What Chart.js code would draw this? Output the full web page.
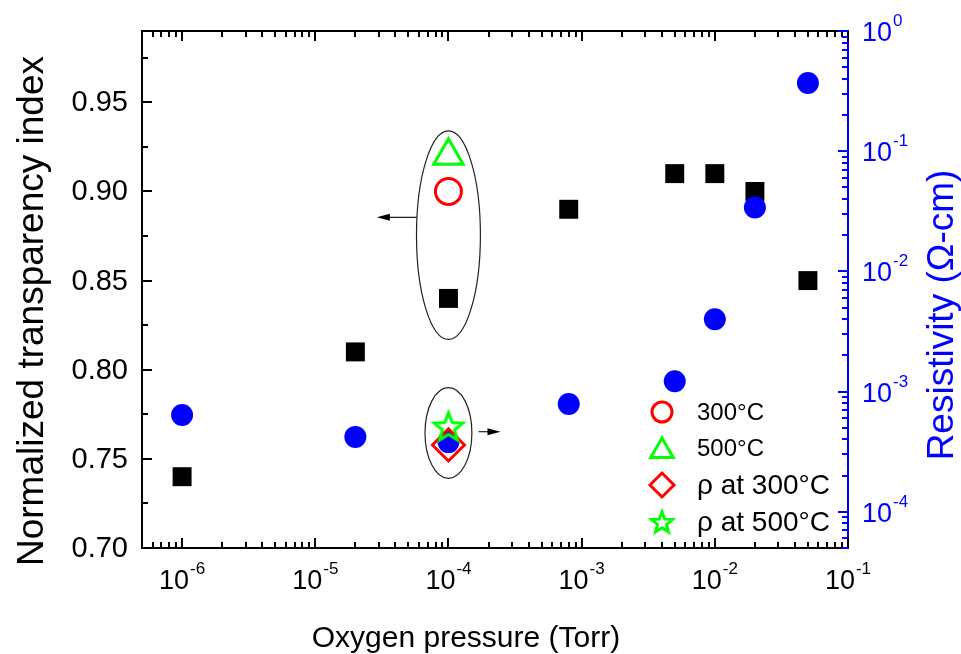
<!DOCTYPE html>
<html>
<head>
<meta charset="utf-8">
<script src="https://cdn.jsdelivr.net/npm/chart.js@4.4.1/dist/chart.umd.min.js"></script>
<style>
  html, body { margin: 0; padding: 0; background: #fff; }
  #wrap { width: 961px; height: 654px; }
</style>
</head>
<body>
<div id="wrap"><canvas id="chart" width="961" height="654"></canvas></div>
<script>
// values
const pressure = [1e-6, 2e-5, 1e-4, 8e-4, 5e-3, 1e-2, 2e-2, 5e-2];
const transparency = [0.74, 0.81, 0.84, 0.89, 0.91, 0.91, 0.90, 0.85];
const resistivity = [6.4e-4, 4.2e-4, 3.8e-4, 7.9e-4, 1.22e-3, 4.0e-3, 3.4e-2, 0.37];

// annealed samples (all at 1e-4 Torr)
const annealPressure = [1e-4];
const trans300 = [0.90];
const trans500 = [0.92];
const rho300 = [3.6e-4];
const rho500 = [5.0e-4];

const leftTickLabels = ['0.70', '0.75', '0.80', '0.85', '0.90', '0.95'];
const xTickExps = [-6, -5, -4, -3, -2, -1];
const rightTickExps = [-4, -3, -2, -1, 0];
const legendLabels = ['300°C', '500°C', 'ρ at 300°C', 'ρ at 500°C'];

const FONT = '"Liberation Sans", Arial, sans-serif';
const BLUE = '#0000ff', RED = '#ff0000', GREEN = '#00ff00';

function toPoints(xs, ys) {
  return xs.map((x, i) => ({ x: x, y: ys[i] }));
}

// open five-point star as an image point style
function starImage(r, color, lw) {
  const size = Math.ceil(2 * (r + lw + 2));
  const c = document.createElement('canvas');
  c.width = size; c.height = size;
  const g = c.getContext('2d');
  starPath(g, size / 2, size / 2, r);
  g.strokeStyle = color;
  g.lineWidth = lw;
  g.stroke();
  return c;
}
function starPath(g, cx, cy, r) {
  const inner = r * 0.43;
  g.beginPath();
  for (let k = 0; k < 10; k++) {
    const rr = k % 2 ? inner : r;
    const a = -Math.PI / 2 + k * Math.PI / 5;
    g.lineTo(cx + rr * Math.cos(a), cy + rr * Math.sin(a));
  }
  g.closePath();
}

// ellipses + arrows, anchored in data units
const callouts = [
  { axis: 'y', x: 1e-4, lo: 0.817, hi: 0.934, halfDec: 0.24, arrowAt: 0.8855, from: null, to: 2.9e-5 },
  { axis: 'y2', x: 1e-4, lo: 1.9e-4, hi: 1.08e-3, halfDec: 0.176, arrowAt: 4.64e-4, from: 1.68e-4, to: 2.46e-4 }
];

function logTicks(min, max) {
  const out = [];
  for (let e = Math.floor(Math.log10(min)); e <= Math.ceil(Math.log10(max)); e++) {
    for (let s = 1; s <= 9; s++) {
      const v = s * Math.pow(10, e);
      if (v >= min * 0.999 && v <= max * 1.001) out.push({ v: v, major: s === 1 });
    }
  }
  return out;
}

function line(ctx, x1, y1, x2, y2) {
  ctx.beginPath(); ctx.moveTo(x1, y1); ctx.lineTo(x2, y2); ctx.stroke();
}

function drawPow(ctx, exp, x, baseY, align) {
  ctx.font = '27px ' + FONT;
  const wb = ctx.measureText('10').width;
  ctx.font = '17px ' + FONT;
  const sup = String(exp);
  const ws = ctx.measureText(sup).width;
  const x0 = align === 'center' ? x - (wb + ws + 1) / 2 : x;
  ctx.textAlign = 'left';
  ctx.textBaseline = 'alphabetic';
  ctx.font = '27px ' + FONT;
  ctx.fillText('10', x0, baseY);
  ctx.font = '17px ' + FONT;
  ctx.fillText(sup, x0 + wb + 1, baseY - 15);
}

function arrowHead(ctx, x, y, dir) {
  ctx.beginPath();
  ctx.moveTo(x, y);
  ctx.lineTo(x - dir * 13, y - 3.5);
  ctx.lineTo(x - dir * 13, y + 3.5);
  ctx.closePath();
  ctx.fill();
}

const decor = {
  id: 'decor',
  afterDatasetsDraw(chart) {
    const ctx = chart.ctx;
    const xs = chart.scales.x;
    ctx.save();
    ctx.strokeStyle = '#222';
    ctx.fillStyle = '#000';
    ctx.lineWidth = 1.2;
    callouts.forEach(c => {
      const ys = chart.scales[c.axis];
      const cx = xs.getPixelForValue(c.x);
      const rx = xs.getPixelForValue(c.x * Math.pow(10, c.halfDec)) - cx;
      const yTop = ys.getPixelForValue(c.hi), yBot = ys.getPixelForValue(c.lo);
      const cy = (yTop + yBot) / 2, ry = (yBot - yTop) / 2;
      ctx.beginPath();
      ctx.ellipse(cx, cy, rx, ry, 0, 0, Math.PI * 2);
      ctx.stroke();
      const ay = ys.getPixelForValue(c.arrowAt);
      const tx = xs.getPixelForValue(c.to);
      let fx;
      if (c.from === null) {
        const k = (ay - cy) / ry;
        fx = cx - rx * Math.sqrt(Math.max(0, 1 - k * k));
      } else {
        fx = xs.getPixelForValue(c.from);
      }
      const dir = tx > fx ? 1 : -1;
      line(ctx, fx, ay, tx - dir * 8, ay);
      arrowHead(ctx, tx, ay, dir);
    });
    ctx.restore();
  },
  afterDraw(chart) {
    const ctx = chart.ctx;
    const { left, right, top, bottom } = chart.chartArea;
    const xs = chart.scales.x, yl = chart.scales.y, yr = chart.scales.y2;
    ctx.save();
    ctx.lineWidth = 2;
    ctx.strokeStyle = '#000';
    line(ctx, left - 1, top, right, top);

    // x ticks, bottom and mirrored top
    logTicks(xs.min, xs.max).forEach(t => {
      const px = Math.round(xs.getPixelForValue(t.v));
      const len = t.major ? 10 : 6;
      line(ctx, px, bottom, px, bottom - len);
      line(ctx, px, top, px, top + len);
    });
    // left ticks
    leftTickLabels.forEach(lab => {
      const v = parseFloat(lab);
      const py = Math.round(yl.getPixelForValue(v));
      line(ctx, left, py, left + 10, py);
      const vm = v + 0.025;
      if (vm < yl.max) {
        const pm = Math.round(yl.getPixelForValue(vm));
        line(ctx, left, pm, left + 6, pm);
      }
    });
    // right ticks
    ctx.strokeStyle = BLUE;
    logTicks(yr.min, yr.max).forEach(t => {
      const py = Math.round(yr.getPixelForValue(t.v));
      line(ctx, right, py, right - (t.major ? 10 : 6), py);
    });

    // tick labels
    ctx.fillStyle = '#000';
    ctx.font = '29px ' + FONT;
    ctx.textAlign = 'right';
    ctx.textBaseline = 'middle';
    leftTickLabels.forEach(lab => {
      ctx.fillText(lab, left - 14, yl.getPixelForValue(parseFloat(lab)) + 1);
    });
    xTickExps.forEach(e => {
      drawPow(ctx, e, xs.getPixelForValue(Math.pow(10, e)), bottom + 41, 'center');
    });
    ctx.fillStyle = BLUE;
    rightTickExps.forEach(e => {
      drawPow(ctx, e, right + 14, yr.getPixelForValue(Math.pow(10, e)) + 10, 'left');
    });

    // axis titles
    ctx.textAlign = 'center';
    ctx.textBaseline = 'alphabetic';
    ctx.fillStyle = '#000';
    ctx.font = '30px ' + FONT;
    ctx.fillText('Oxygen pressure (Torr)', 466, 647);
    ctx.save();
    ctx.translate(43, 311);
    ctx.rotate(-Math.PI / 2);
    ctx.font = '37px ' + FONT;
    ctx.fillText('Normalized transparency index', 0, 0);
    ctx.restore();
    ctx.save();
    ctx.translate(953, 315);
    ctx.rotate(-Math.PI / 2);
    ctx.fillStyle = BLUE;
    ctx.font = '37px ' + FONT;
    ctx.fillText('Resistivity (Ω-cm)', 0, 0);
    ctx.restore();

    // legend
    const rows = [
      { style: 'circle', r: 10, color: RED, size: 24 },
      { style: 'triangle', r: 13, color: GREEN, size: 24 },
      { style: 'rectRot', r: 12, color: RED, size: 28 },
      { style: 'star', r: 11, color: GREEN, size: 28 }
    ];
    const rowY = [412, 448, 485, 522];
    rows.forEach((row, i) => {
      const sx = 662, sy = rowY[i];
      ctx.strokeStyle = row.color;
      ctx.fillStyle = 'rgba(0,0,0,0)';
      ctx.lineWidth = 3;
      if (row.style === 'star') {
        starPath(ctx, sx, sy + 1, row.r);
        ctx.stroke();
      } else {
        Chart.helpers.drawPoint(ctx, { pointStyle: row.style, radius: row.r, rotation: 0, borderWidth: 3 }, sx, row.style === 'triangle' ? sy + 3 : sy);
      }
      ctx.fillStyle = '#000';
      ctx.font = row.size + 'px ' + FONT;
      ctx.textAlign = 'left';
      ctx.textBaseline = 'middle';
      ctx.fillText(legendLabels[i], 697, sy + 1);
    });
    ctx.restore();
  }
};

const starImg = starImage(15, GREEN, 3);

new Chart(document.getElementById('chart'), {
  type: 'scatter',
  data: {
    datasets: [
      { label: legendLabels[3], data: toPoints(annealPressure, rho500), yAxisID: 'y2', pointStyle: starImg, pointRadius: 16, order: 0 },
      { label: legendLabels[2], data: toPoints(annealPressure, rho300), yAxisID: 'y2', pointStyle: 'rectRot', pointRadius: 16, borderColor: RED, borderWidth: 3, backgroundColor: 'rgba(0,0,0,0)', order: 1 },
      { label: legendLabels[1], data: toPoints(annealPressure, trans500), yAxisID: 'y', pointStyle: 'triangle', pointRadius: 17, borderColor: GREEN, borderWidth: 3, backgroundColor: 'rgba(0,0,0,0)', order: 2 },
      { label: legendLabels[0], data: toPoints(annealPressure, trans300), yAxisID: 'y', pointStyle: 'circle', pointRadius: 13, borderColor: RED, borderWidth: 3, backgroundColor: 'rgba(0,0,0,0)', order: 3 },
      { label: 'Resistivity', data: toPoints(pressure, resistivity), yAxisID: 'y2', pointStyle: 'circle', pointRadius: 11, backgroundColor: BLUE, borderWidth: 0, order: 4 },
      { label: 'Transparency', data: toPoints(pressure, transparency), yAxisID: 'y', pointStyle: 'rect', pointRadius: 13.4, backgroundColor: '#000', borderWidth: 0, order: 5 }
    ]
  },
  options: {
    responsive: false,
    animation: false,
    devicePixelRatio: 1,
    layout: { padding: { top: 31, left: 0, right: 0, bottom: 0 } },
    plugins: { legend: { display: false }, tooltip: { enabled: false } },
    scales: {
      x: {
        type: 'logarithmic', min: 5e-7, max: 0.1,
        ticks: { display: false },
        grid: { display: false },
        border: { display: true, color: '#000', width: 2 },
        afterFit(s) { s.height = 106; }
      },
      y: {
        type: 'linear', position: 'left', min: 0.70, max: 0.99,
        ticks: { display: false },
        grid: { display: false },
        border: { display: true, color: '#000', width: 2 },
        afterFit(s) { s.width = 142; }
      },
      y2: {
        type: 'logarithmic', position: 'right', min: 5e-5, max: 1,
        ticks: { display: false },
        grid: { display: false },
        border: { display: true, color: BLUE, width: 2 },
        afterFit(s) { s.width = 113; }
      }
    }
  },
  plugins: [decor]
});
</script>
</body>
</html>
